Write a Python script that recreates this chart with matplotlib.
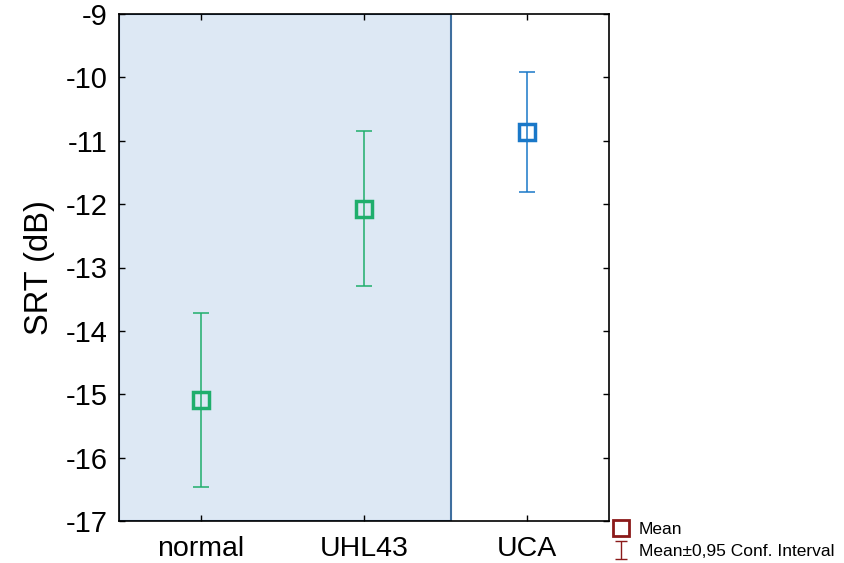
import numpy as np
import matplotlib
matplotlib.use("Agg")
import matplotlib.pyplot as plt

plt.rcParams['font.family'] = ['Liberation Sans', 'DejaVu Sans']

# data
groups = ["normal", "UHL43", "UCA"]
means = [-15.09, -12.08, -10.86]
ci_upper = [-13.72, -10.85, -9.91]
ci_lower = [-16.46, -13.29, -11.81]
colors = ["#1fae6c", "#1fae6c", "#1a78c8"]
y_ticks = [-17, -16, -15, -14, -13, -12, -11, -10, -9]

fig = plt.figure(figsize=(8.44, 5.63), dpi=100)
ax = fig.add_axes([119 / 844, 1 - 521 / 563, 490 / 844, 507 / 563])

x = np.arange(len(groups))

# shaded block behind the first two groups
ax.axvspan(-0.5, 1.53, facecolor="#dde8f4", edgecolor="#3f6f9f", lw=1.5, zorder=0)

for i in range(len(groups)):
    lo = means[i] - ci_lower[i]
    hi = ci_upper[i] - means[i]
    ax.errorbar(x[i], means[i], yerr=[[lo], [hi]], fmt="none",
                ecolor=colors[i], elinewidth=1.1, capsize=6, capthick=1.1, zorder=2)
    ax.plot(x[i], means[i], marker="s", ms=11.5, mfc="none", mec=colors[i],
            mew=2.5, ls="none", zorder=3)

ax.set_xlim(-0.5, 2.5)
ax.set_ylim(-17, -9)
ax.set_xticks(x)
ax.set_xticklabels(groups, fontsize=20.5)
ax.set_yticks(y_ticks)
ax.set_yticklabels([str(t) for t in y_ticks], fontsize=21)
ax.tick_params(direction="in", top=True, right=True, length=4, width=1)
ax.tick_params(axis="x", pad=11)
ax.tick_params(axis="y", pad=8)
ax.set_ylabel("SRT (dB)", fontsize=23.5, labelpad=8)
for s in ax.spines.values():
    s.set_linewidth(1.2)

# legend outside, bottom right
mean_h = plt.Line2D([], [], marker="s", ms=12, mfc="none", mec="#8b1a1a",
                    mew=2, ls="none")
ci_h = ax.errorbar([np.nan], [np.nan], yerr=[1], fmt="none", ecolor="#8b1a1a",
                   elinewidth=1, capsize=4, capthick=1)
fig.legend([mean_h, ci_h], ["Mean", "Mean\u00b10,95 Conf. Interval"],
           loc="upper left", bbox_to_anchor=(612 / 844, 1 - 522 / 563),
           frameon=False, fontsize=12.5, handlelength=1.0, handletextpad=0.55,
           labelspacing=0.4, borderpad=0, borderaxespad=0)

fig.savefig("out.png", dpi=100)
